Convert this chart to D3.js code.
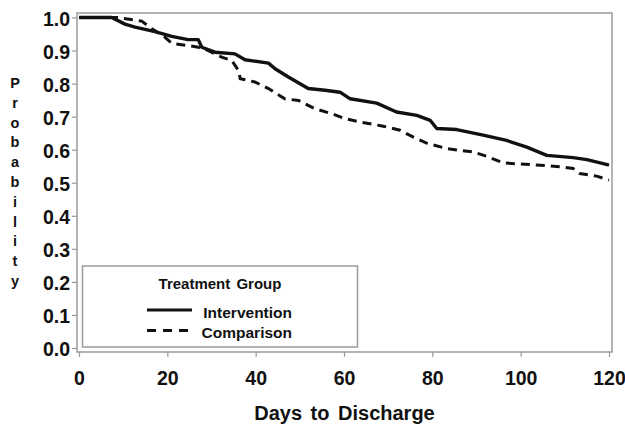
<!DOCTYPE html>
<head>
  <meta charset="utf8">
  <title>Days to Discharge</title>
  <script src="https://d3js.org/d3.v7.min.js"></script>
  <style>
    body { margin: 0; background: #fff; }
    text { font-family: "Liberation Sans", Arial, sans-serif; font-weight: bold; fill: #111; }
  </style>
</head>
<body>
<script>
  var width = 625, height = 425;

  // vertices of the two survival curves (days, probability)
  var interventionDays = [0, 7.4, 10.4, 12.7, 17.2, 21, 24.7, 27, 27.8, 30.8, 35.3, 37.6, 42.9, 44.4, 47.4, 51.9, 55.7, 59.1, 61.4, 67.4, 71.9, 76.5, 79.5, 81, 85.5, 91.5, 96.8, 101.4, 105.9, 111.9, 115, 118.7, 120];
  var interventionProb = [1.0, 1.0, 0.98, 0.971, 0.957, 0.943, 0.933, 0.933, 0.91, 0.895, 0.89, 0.872, 0.862, 0.845, 0.82, 0.785, 0.78, 0.774, 0.754, 0.741, 0.714, 0.704, 0.689, 0.664, 0.661, 0.644, 0.628, 0.608, 0.583, 0.576, 0.57, 0.558, 0.553];

  var comparisonDays = [0, 8.8, 14.2, 16.5, 19.5, 21, 24.7, 27, 29.3, 32.3, 34.6, 36.1, 36.5, 39.8, 42.9, 46.6, 49.7, 53.4, 57.2, 60.2, 63.6, 68.9, 72.7, 75.7, 78.7, 83.3, 89.3, 92.3, 94.6, 96.1, 104.4, 109, 111.9, 113.4, 117.2, 120];
  var comparisonProb = [1.0, 1.0, 0.989, 0.966, 0.94, 0.922, 0.915, 0.91, 0.9, 0.88, 0.87, 0.84, 0.815, 0.805, 0.785, 0.754, 0.749, 0.724, 0.709, 0.694, 0.684, 0.671, 0.659, 0.638, 0.62, 0.603, 0.593, 0.58, 0.568, 0.56, 0.553, 0.548, 0.543, 0.528, 0.52, 0.508];

  var xTicks = [0, 20, 40, 60, 80, 100, 120];
  var yTicks = [0, 0.1, 0.2, 0.3, 0.4, 0.5, 0.6, 0.7, 0.8, 0.9, 1.0];
  var groupNames = ["Intervention", "Comparison"];
  var yLabel = "Probability";

  var svg = d3.select("body").append("svg")
              .attr("width", width)
              .attr("height", height);

  var x = d3.scaleLinear().domain([0, 120]).range([79, 609]),
      y = d3.scaleLinear().domain([0, 1]).range([348, 17.5]);

  var frameLeft = x(0) - 2, frameRight = x(120) + 3,
      frameTop = y(1) - 4.5, frameBottom = y(0) + 4;

  // plot frame
  svg.append("rect")
     .attr("x", frameLeft)
     .attr("y", frameTop)
     .attr("width", frameRight - frameLeft)
     .attr("height", frameBottom - frameTop)
     .attr("fill", "none")
     .attr("stroke", "#9a9a9a")
     .attr("stroke-width", 1.5);

  // y axis
  var gy = svg.append("g")
              .attr("transform", "translate(" + frameLeft + ",0)")
              .call(d3.axisLeft(y).tickValues(yTicks).tickFormat(d3.format(".1f"))
                      .tickSize(5).tickPadding(2));
  gy.select(".domain").remove();
  gy.selectAll(".tick line").attr("stroke", "#9a9a9a").attr("stroke-width", 1.2);
  gy.selectAll(".tick text")
    .attr("font-size", 19.5)
    .attr("font-family", null)
    .attr("dy", "0.4em");

  // x axis
  var gx = svg.append("g")
              .attr("transform", "translate(0," + frameBottom + ")")
              .call(d3.axisBottom(x).tickValues(xTicks).tickFormat(d3.format("d"))
                      .tickSize(5).tickPadding(14));
  gx.select(".domain").remove();
  gx.selectAll(".tick line").attr("stroke", "#9a9a9a").attr("stroke-width", 1.2);
  gx.selectAll(".tick text")
    .attr("font-size", 19.5)
    .attr("font-family", null);

  svg.append("text")
     .attr("x", (frameLeft + frameRight) / 2)
     .attr("y", 420)
     .attr("text-anchor", "middle")
     .attr("font-size", 20)
     .attr("word-spacing", "3px")
     .text("Days to Discharge");

  // stacked letters of the y label
  svg.append("g").selectAll("text")
     .data(yLabel.split(""))
     .enter().append("text")
     .attr("x", 15)
     .attr("y", function(d, i) { return 88 + i * 19.8; })
     .attr("text-anchor", "middle")
     .attr("font-size", 14.5)
     .text(function(d) { return d; });

  // curves
  var line = d3.line()
               .x(function(d) { return x(d[0]); })
               .y(function(d) { return y(d[1]); });

  var interventionData = d3.zip(interventionDays, interventionProb),
      comparisonData = d3.zip(comparisonDays, comparisonProb);

  svg.append("path")
     .datum(comparisonData)
     .attr("fill", "none")
     .attr("stroke", "#111")
     .attr("stroke-width", 3)
     .attr("stroke-dasharray", "9,6")
     .attr("d", line);

  svg.append("path")
     .datum(interventionData)
     .attr("fill", "none")
     .attr("stroke", "#111")
     .attr("stroke-width", 3.4)
     .attr("stroke-linejoin", "round")
     .attr("d", line);

  // legend
  var legend = svg.append("g");
  legend.append("rect")
        .attr("x", 82.5)
        .attr("y", 266)
        .attr("width", 275)
        .attr("height", 81)
        .attr("fill", "#fff")
        .attr("stroke", "#9a9a9a")
        .attr("stroke-width", 1.5);

  legend.append("text")
        .attr("x", 220)
        .attr("y", 289)
        .attr("text-anchor", "middle")
        .attr("font-size", 15)
        .attr("word-spacing", "2px")
        .text("Treatment Group");

  var legendRows = legend.selectAll(".row")
        .data(groupNames)
        .enter().append("g")
        .attr("class", "row")
        .attr("transform", function(d, i) { return "translate(0," + (310 + i * 20.5) + ")"; });

  legendRows.append("line")
        .attr("x1", 147)
        .attr("x2", function(d, i) { return i == 0 ? 192 : 189; })
        .attr("stroke", "#111")
        .attr("stroke-width", 3)
        .attr("stroke-dasharray", function(d, i) { return i == 0 ? null : "9,7"; });

  legendRows.append("text")
        .attr("x", 292)
        .attr("y", 7.5)
        .attr("text-anchor", "end")
        .attr("font-size", 15.5)
        .text(function(d) { return d; });
</script>
</body>
